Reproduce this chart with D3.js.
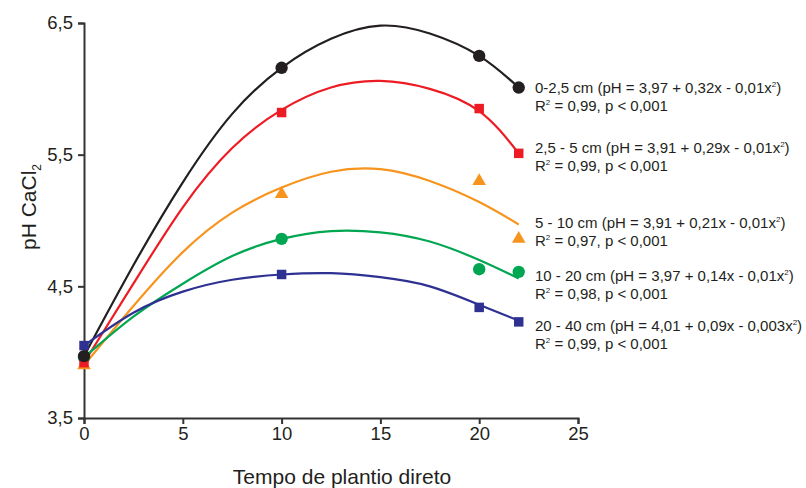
<!DOCTYPE html>
<html>
<head>
    <meta charset="utf-8">
    <script src="https://d3js.org/d3.v7.min.js"></script>
    <style>
        body { margin: 0; background: #fff; }
        text { font-family: "Liberation Sans", Arial, sans-serif; fill: #231f20; }
    </style>
</head>
<body>
    <svg width="806" height="488"></svg>

    <script>
        // observed years and pH
        var years = [0, 10, 20, 22];
        var ph0_25 = [3.97, 6.16, 6.25, 6.01];
        var ph25_5 = [3.92, 5.82, 5.85, 5.51];
        var ph5_10 = [3.90, 5.20, 5.30, 4.86];
        var ph10_20 = [3.96, 4.86, 4.63, 4.61];
        var ph20_40 = [4.05, 4.59, 4.34, 4.23];

        // fitted curve
        var fitYears = [0, 2.5, 5, 7.5, 10, 12.5, 15, 17.5, 20, 22];
        var fit0_25 = [3.97, 4.66, 5.29, 5.81, 6.16, 6.38, 6.48, 6.42, 6.25, 6.01];
        var fit25_5 = [3.92, 4.52, 5.10, 5.55, 5.84, 6.01, 6.06, 6.00, 5.83, 5.51];
        var fit5_10 = [3.90, 4.35, 4.76, 5.06, 5.25, 5.37, 5.39, 5.30, 5.14, 4.97];
        var fit10_20 = [3.96, 4.27, 4.52, 4.73, 4.86, 4.92, 4.91, 4.84, 4.70, 4.56];
        var fit20_40 = [4.05, 4.30, 4.46, 4.55, 4.59, 4.60, 4.57, 4.50, 4.36, 4.24];

        var labels = [
            ["0-2,5 cm (pH = 3,97 + 0,32x - 0,01x", ")"],
            ["2,5 - 5 cm (pH = 3,91 + 0,29x - 0,01x", ")"],
            ["5 - 10 cm (pH = 3,91 + 0,21x - 0,01x", ")"],
            ["10 - 20 cm (pH = 3,97 + 0,14x - 0,01x", ")"],
            ["20 - 40 cm (pH = 4,01 + 0,09x - 0,003x", ")"]
        ];
        var stats = ["= 0,99, p < 0,001", "= 0,99, p < 0,001", "= 0,97, p < 0,001", "= 0,98, p < 0,001", "= 0,99, p < 0,001"];

        var xTicks = [0, 5, 10, 15, 20, 25];
        var yTicks = [3.5, 4.5, 5.5, 6.5];

        var series = [
            { obs: ph0_25, fit: fit0_25, color: "#231f20", shape: "circle", labelY: 93 },
            { obs: ph25_5, fit: fit25_5, color: "#ed1c24", shape: "square", labelY: 153 },
            { obs: ph5_10, fit: fit5_10, color: "#f7941d", shape: "triangle", labelY: 228 },
            { obs: ph10_20, fit: fit10_20, color: "#00a651", shape: "circle", labelY: 281 },
            { obs: ph20_40, fit: fit20_40, color: "#2e3192", shape: "square", labelY: 331 }
        ];

        var svg = d3.select("svg");
        var x = d3.scaleLinear().domain([0, 25]).range([84, 578]);
        var y = d3.scaleLinear().domain([3.5, 6.5]).range([418, 23]);
        var fmt = function(d) { return d3.format(".1f")(d).replace(".", ","); };

        // axes
        var gx = svg.append("g").attr("transform", "translate(0,418)")
            .call(d3.axisBottom(x).tickValues(xTicks).tickSize(6).tickPadding(3));
        var gy = svg.append("g").attr("transform", "translate(84,0)")
            .call(d3.axisLeft(y).tickValues(yTicks).tickFormat(fmt).tickSize(6).tickPadding(5));
        [gx, gy].forEach(function(g) {
            g.select(".domain").attr("stroke", "#333").attr("stroke-width", 2);
            g.selectAll(".tick line").attr("stroke", "#333").attr("stroke-width", 2);
            g.selectAll(".tick text").style("font-size", "18.5px")
                .style("font-family", "'Liberation Sans', Arial, sans-serif").attr("fill", "#231f20");
        });

        svg.append("text").attr("x", 342).attr("y", 484).attr("text-anchor", "middle")
            .style("font-size", "21px").text("Tempo de plantio direto");

        var yt = svg.append("text").attr("transform", "translate(36,207) rotate(-90)")
            .attr("text-anchor", "middle").style("font-size", "21px");
        yt.append("tspan").text("pH CaCl");
        yt.append("tspan").attr("dy", 5).style("font-size", "12px").text("2");

        var line = d3.line()
            .x(function(d) { return x(d[0]); })
            .y(function(d) { return y(d[1]); })
            .curve(d3.curveNatural);

        series.forEach(function(s) {
            svg.append("path")
                .datum(fitYears.map(function(t, i) { return [t, s.fit[i]]; }))
                .attr("d", line).attr("fill", "none")
                .attr("stroke", s.color).attr("stroke-width", 2.2);
        });

        // markers drawn bottom-up so the 0-year markers stack like the original
        series.slice().reverse().forEach(function(s) {
            var pts = svg.append("g").selectAll("path")
                .data(years.map(function(t, i) { return [t, s.obs[i]]; }))
                .enter().append("path")
                .attr("transform", function(d) { return "translate(" + x(d[0]) + "," + y(d[1]) + ")"; })
                .attr("fill", s.color);
            if (s.shape === "circle") pts.attr("d", d3.symbol(d3.symbolCircle, 120));
            else if (s.shape === "square") pts.attr("d", d3.symbol(d3.symbolSquare, 90));
            else pts.attr("d", d3.symbol(d3.symbolTriangle, 80));
        });

        // equation labels
        series.forEach(function(s, i) {
            var t1 = svg.append("text").attr("x", 535).attr("y", s.labelY).style("font-size", "15px");
            t1.append("tspan").text(labels[i][0]);
            t1.append("tspan").attr("dy", -6).style("font-size", "8px").text("2");
            t1.append("tspan").attr("dy", 6).text(labels[i][1]);
            var t2 = svg.append("text").attr("x", 535).attr("y", s.labelY + 18).style("font-size", "15px");
            t2.append("tspan").text("R");
            t2.append("tspan").attr("dy", -6).style("font-size", "8px").text("2");
            t2.append("tspan").attr("dy", 6).text(" " + stats[i]);
        });
    </script>
</body>
</html>
